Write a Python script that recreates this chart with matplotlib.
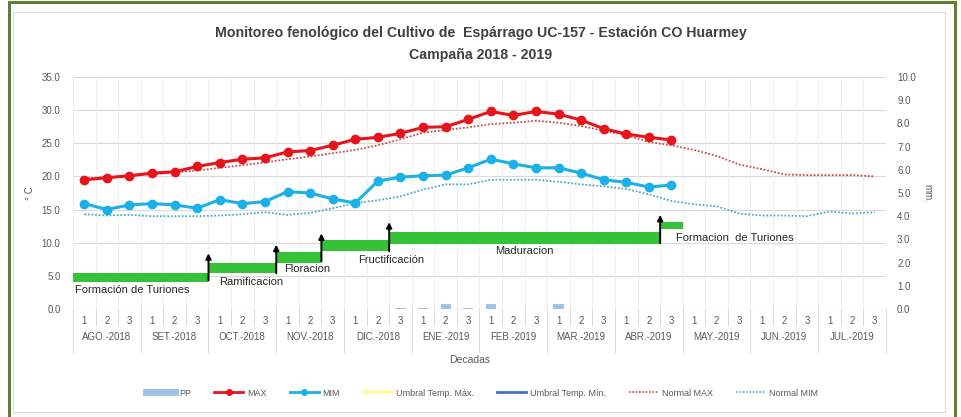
import matplotlib
matplotlib.use("Agg")
import matplotlib.pyplot as plt
from matplotlib.patches import Rectangle
from matplotlib.lines import Line2D
from matplotlib.transforms import blended_transform_factory

plt.rcParams['font.family'] = ['Liberation Sans', 'DejaVu Sans']

# decadas AGO-2018 .. JUL-2019
months = ['AGO.-2018', 'SET.-2018', 'OCT.-2018', 'NOV.-2018', 'DIC.-2018', 'ENE.-2019',
          'FEB.-2019', 'MAR.-2019', 'ABR.-2019', 'MAY.-2019', 'JUN.-2019', 'JUL.-2019']
decade_labels = ['1', '2', '3'] * len(months)

t_max = [19.5, 19.8, 20.1, 20.5, 20.7, 21.5, 22.1, 22.6, 22.8, 23.7, 23.9, 24.7,
         25.6, 25.9, 26.5, 27.4, 27.5, 28.6, 29.8, 29.2, 29.8, 29.4, 28.5, 27.2,
         26.4, 25.9, 25.5]
t_min = [15.9, 15.0, 15.7, 15.9, 15.7, 15.2, 16.5, 15.9, 16.2, 17.7, 17.5, 16.6,
         16.0, 19.3, 19.9, 20.1, 20.2, 21.3, 22.6, 21.9, 21.3, 21.3, 20.5, 19.5,
         19.1, 18.4, 18.7]
normal_max = [19.7, 19.9, 20.1, 20.3, 20.6, 20.9, 21.3, 21.7, 22.1, 22.6, 23.0, 23.5,
              24.0, 24.7, 25.6, 26.6, 27.0, 27.4, 27.9, 28.1, 28.4, 28.1, 27.6, 26.9,
              26.2, 25.2, 24.7, 24.0, 23.1, 21.8, 21.1, 20.3, 20.2, 20.2, 20.2, 20.0]
normal_min = [14.3, 14.1, 14.2, 14.0, 14.0, 14.0, 14.1, 14.3, 14.6, 14.2, 14.5, 15.2,
              16.0, 16.4, 17.0, 18.0, 18.8, 18.8, 19.5, 19.5, 19.5, 19.2, 18.8, 18.5,
              18.1, 17.3, 16.3, 15.8, 15.5, 14.4, 14.1, 14.1, 14.0, 14.7, 14.4, 14.6]
pp = [0, 0, 0, 0, 0, 0, 0, 0, 0, 0, 0, 0, 0, 0, 0.05, 0.05, 0.2, 0.05, 0.2, 0, 0, 0.2,
      0, 0, 0, 0, 0, 0, 0, 0, 0, 0, 0, 0, 0, 0]

# fases fenologicas (inicio/fin en decadas, rango en el eje de temperatura)
stage_names = ['Formación de Turiones', 'Ramificacion', 'Floracion', 'Fructificación',
               'Maduracion', 'Formacion  de Turiones']
stage_start = [0, 6, 9, 11, 14, 26]
stage_end = [6, 9, 11, 14, 26, 27]
stage_low = [4.0, 5.4, 7.0, 8.8, 9.85, 12.1]
stage_high = [5.5, 6.9, 8.6, 10.45, 11.6, 13.2]
arrow_at = [6, 9, 11, 14, 26]
arrow_base = [4.3, 5.4, 7.2, 8.7, 9.95]
arrow_tip = [8.4, 9.7, 11.4, 13.1, 14.2]

W, H = 962, 417
fig = plt.figure(figsize=(W / 100, H / 100), dpi=100)


def px(x, y):
    return x / W, 1 - y / H


# marcos
fig.add_artist(Rectangle(px(13, 412), 932 / W, 400 / H, transform=fig.transFigure,
                         fill=False, edgecolor='#d9d9d9', lw=0.8))
fig.add_artist(Rectangle(px(8, 4), 949 / W, 3 / H, transform=fig.transFigure,
                         color='#5e7f2e', lw=0))
fig.add_artist(Rectangle(px(8, 417), 3 / W, 413 / H, transform=fig.transFigure,
                         color='#5e7f2e', lw=0))
fig.add_artist(Rectangle(px(954, 417), 3 / W, 413 / H, transform=fig.transFigure,
                         color='#5e7f2e', lw=0))

x0, y0 = px(73, 309)
x1, y1 = px(886, 77)
ax2 = fig.add_axes([x0, y0, x1 - x0, y1 - y0])
ax = fig.add_axes([x0, y0, x1 - x0, y1 - y0], sharex=ax2)
ax.patch.set_visible(False)

n = len(decade_labels)
xs = list(range(n))

# PP en mm (eje secundario)
ax2.bar(xs, pp, width=0.45, color='#9dc3e6', zorder=2)
ax2.set_ylim(0, 10)
ax2.set_yticks(range(0, 11))
ax2.set_yticklabels([f'{v:.1f}' for v in range(0, 11)])
ax2.yaxis.tick_right()
ax2.yaxis.set_label_position('right')
ax2.set_ylabel('mm.', fontsize=7, color='#595959', rotation=270, labelpad=12)
ax2.tick_params(axis='y', length=0, labelsize=7, labelcolor='#595959', pad=8)
for s in ax2.spines.values():
    s.set_visible(False)

ax.set_xlim(-0.5, n - 0.5)
ax.set_ylim(0, 35)
ax.set_yticks(range(0, 36, 5))
ax.set_yticklabels([f'{v:.1f}' for v in range(0, 36, 5)])
ax.tick_params(axis='y', length=0, labelsize=7, labelcolor='#595959', pad=9)
ax.set_ylabel('° C', fontsize=7, color='#595959', labelpad=5)
for s in ax.spines.values():
    s.set_visible(False)
for v in range(0, 36, 5):
    ax.axhline(v, color='#d9d9d9', lw=0.8, zorder=0)
for k in range(n + 1):
    ax.axvline(k - 0.5, color='#eeeeee', lw=0.6, zorder=0)

# fases
for name, a, b, lo, hi in zip(stage_names, stage_start, stage_end, stage_low, stage_high):
    ax.bar(a - 0.5, hi - lo, width=b - a, bottom=lo, align='edge', color='#36c236', zorder=3)
for xa, yb, yt in zip(arrow_at, arrow_base, arrow_tip):
    ax.annotate('', xy=(xa - 0.5, yt), xytext=(xa - 0.5, yb),
                arrowprops=dict(arrowstyle='-|>', color='black', lw=1.4,
                                mutation_scale=8, shrinkA=0, shrinkB=0), zorder=4)
label_pos = [(-0.42, 2.9, 'left'), (7.38, 4.0, 'center'), (9.85, 6.05, 'center'),
             (13.6, 7.4, 'center'), (19.5, 8.8, 'center'), (26.18, 10.7, 'left')]
for name, (lx, ly, ha) in zip(stage_names, label_pos):
    ax.text(lx, ly, name, ha=ha, va='center', fontsize=8, color='#262626', zorder=5)

# temperaturas
ax.plot(xs, normal_max, ls=(0, (1, 1)), color='#c0504d', lw=1.3, zorder=5, label='Normal MAX')
ax.plot(xs, normal_min, ls=(0, (1, 1)), color='#4bacc6', lw=1.3, zorder=5, label='Normal MIM')
ax.plot(xs[:len(t_max)], t_max, color='#e8141b', lw=2.2, marker='o', ms=6, zorder=6, label='MAX')
ax.plot(xs[:len(t_min)], t_min, color='#1cb0e8', lw=2.2, marker='o', ms=6, zorder=6, label='MIM')

# eje de categorias en dos niveles
ax.set_xticks(xs)
ax.set_xticklabels(decade_labels)
ax.tick_params(axis='x', length=0, labelsize=7, labelcolor='#595959', pad=5)
ax2.tick_params(axis='x', length=0, labelbottom=False)
tr = blended_transform_factory(ax.transData, ax.transAxes)
hpx = y1 - y0
for k in range(n + 1):
    depth = 43 if k % 3 == 0 else 16
    ax.add_line(Line2D([k - 0.5, k - 0.5], [0, -depth / (hpx * H)], transform=tr,
                       color='#d9d9d9', lw=0.7, clip_on=False))
for i, m in enumerate(months):
    ax.text(3 * i + 1, -28 / (hpx * H), m, transform=tr, ha='center', va='center',
            fontsize=7, color='#595959')
fig.text(470 / W, 1 - 360 / H, 'Decadas', ha='center', va='center', fontsize=7.5, color='#595959')

fig.text(481 / W, 1 - 33 / H, 'Monitoreo fenológico del Cultivo de  Espárrago UC-157 - Estación CO Huarmey',
         ha='center', va='center', fontsize=10.2, fontweight='bold', color='#404040')
fig.text(481 / W, 1 - 55 / H, 'Campaña 2018 - 2019', ha='center', va='center',
         fontsize=10.2, fontweight='bold', color='#404040')

handles = [
    Line2D([], [], color='#9dc3e6', lw=5),
    Line2D([], [], color='#e8141b', lw=2, marker='o', ms=4),
    Line2D([], [], color='#1cb0e8', lw=2, marker='o', ms=4),
    Line2D([], [], color='#ffff66', lw=1.5),
    Line2D([], [], color='#4472c4', lw=2),
    Line2D([], [], color='#c0504d', lw=1.2, ls=(0, (1, 1))),
    Line2D([], [], color='#4bacc6', lw=1.2, ls=(0, (1, 1))),
]
names = ['PP', 'MAX', 'MIM', 'Umbral Temp. Máx.', 'Umbral Temp. Mín.', 'Normal MAX', 'Normal MIM']
leg = fig.legend(handles, names, loc='center', bbox_to_anchor=(482 / W, 1 - 393 / H), ncol=7,
                 frameon=False, fontsize=6.5, handlelength=3.2, handletextpad=0.4, columnspacing=2.6)
for t in leg.get_texts():
    t.set_color('#595959')

fig.savefig('out.png', dpi=100)
